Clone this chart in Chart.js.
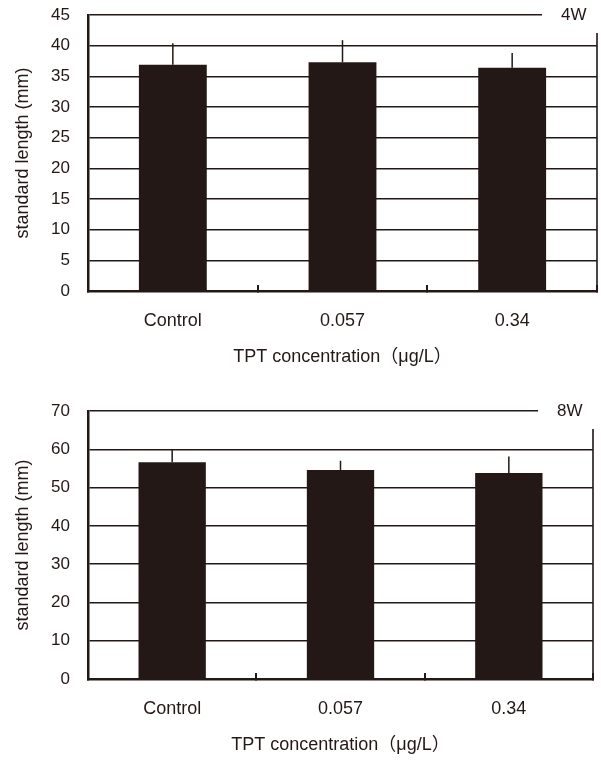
<!DOCTYPE html>
<html>
<head>
<meta charset="utf-8">
<script src="https://cdn.jsdelivr.net/npm/chart.js@4"></script>
<style>
  body { margin: 0; background: #fff; width: 601px; height: 760px; position: relative; overflow: hidden; }
  .box { position: absolute; left: 0; width: 601px; }
</style>
</head>
<body>
<div class="box" style="top:0;height:371px"><canvas id="len4w"></canvas></div>
<div class="box" style="top:396px;height:363px"><canvas id="len8w"></canvas></div>
<script>
// standard length (mm), mean and SD per TPT group
const groups = ['Control', '0.057', '0.34'];
const mean4w = [36.9, 37.3, 36.4];
const sd4w = [3.5, 3.6, 2.4];
const mean8w = [56.6, 54.6, 53.8];
const sd8w = [3.2, 2.4, 4.3];
const yMax4w = 45, yStep4w = 5;
const yMax8w = 70, yStep8w = 10;

const ink = '#231815';
const face = "'Liberation Sans', 'Noto Sans CJK JP', sans-serif";

// upward whisker only, the lower half sits inside the bar
const errorBars = {
    id: 'errorBars',
    afterDatasetsDraw(chart, args, opts) {
        const ctx = chart.ctx;
        const y = chart.scales.y;
        const vals = chart.data.datasets[0].data;
        ctx.save();
        ctx.strokeStyle = ink;
        ctx.lineWidth = 1.5;
        chart.getDatasetMeta(0).data.forEach((bar, i) => {
            ctx.beginPath();
            ctx.moveTo(bar.x, y.getPixelForValue(vals[i]));
            ctx.lineTo(bar.x, y.getPixelForValue(vals[i] + opts.sd[i]));
            ctx.stroke();
        });
        ctx.restore();
    }
};

// week tag in a white box over the top right corner of the frame
const cornerTag = {
    id: 'cornerTag',
    afterDraw(chart, args, opts) {
        const a = chart.chartArea;
        const ctx = chart.ctx;
        ctx.save();
        ctx.fillStyle = '#fff';
        ctx.fillRect(a.right - 55, 0, 70, a.top + 18);
        ctx.fillStyle = ink;
        ctx.font = '17px ' + face;
        ctx.textBaseline = 'middle';
        ctx.fillText(opts.text, a.right - 36, a.top);
        ctx.restore();
    }
};

function makeChart(id, mean, sd, yMax, yStep, tag, padRight) {
    return new Chart(document.getElementById(id), {
        type: 'bar',
        data: {
            labels: groups,
            datasets: [{
                data: mean,
                backgroundColor: ink,
                borderWidth: 0,
                barPercentage: 1,
                categoryPercentage: 0.4
            }]
        },
        options: {
            responsive: true,
            maintainAspectRatio: false,
            animation: false,
            layout: { padding: { top: 15, right: padRight, left: 0, bottom: 0 } },
            plugins: {
                legend: { display: false },
                tooltip: { enabled: false },
                errorBars: { sd: sd },
                cornerTag: { text: tag }
            },
            scales: {
                x: {
                    grid: {
                        drawOnChartArea: true,
                        color: c => c.type === 'tick' ? 'rgba(0,0,0,0)' : '#4a4444',
                        lineWidth: 2,
                        drawTicks: true,
                        tickLength: -6,
                        tickColor: ink,
                        tickWidth: 2
                    },
                    border: { color: ink, width: 2.5 },
                    ticks: { color: ink, font: { family: face, size: 18 }, padding: 25 },
                    title: {
                        display: true,
                        text: 'TPT concentration（μg/L）',
                        color: ink,
                        font: { family: face, size: 18 },
                        padding: { top: 0, bottom: 3 }
                    },
                    afterFit: s => { s.height = 80; }
                },
                y: {
                    min: 0,
                    max: yMax,
                    grid: { color: ink, lineWidth: 1.5, drawTicks: false },
                    border: { color: ink, width: 2.5 },
                    ticks: { stepSize: yStep, color: ink, font: { family: face, size: 17 }, padding: 18 },
                    title: {
                        display: true,
                        text: 'standard length (mm)',
                        color: ink,
                        font: { family: face, size: 18 },
                        padding: { top: 12, bottom: 0 }
                    },
                    afterFit: s => {
                        s.width = 88;
                        s.paddingTop = 0;
                        s.paddingBottom = 0;
                    }
                }
            }
        },
        plugins: [errorBars, cornerTag]
    });
}

makeChart('len4w', mean4w, sd4w, yMax4w, yStep4w, '4W', 4);
makeChart('len8w', mean8w, sd8w, yMax8w, yStep8w, '8W', 8);
</script>
</body>
</html>
